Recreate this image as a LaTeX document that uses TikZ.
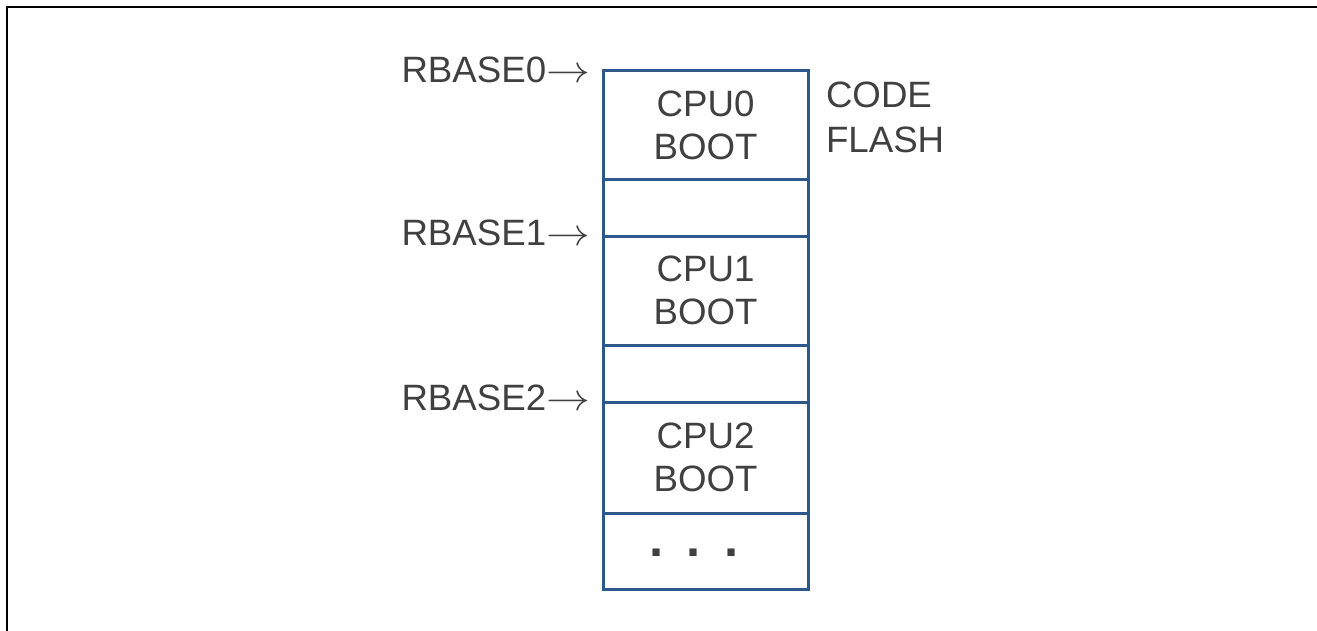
\documentclass[tikz,border=0pt]{standalone}
\usepackage{fontspec}
\usepackage{graphicx}
\setmainfont{Liberation Sans}
\definecolor{boxblue}{RGB}{47,88,138}
\definecolor{txt}{RGB}{64,64,64}
\newcommand{\longarr}{\scalebox{1.32}[1.15]{$\rightarrow$}}
\begin{document}
\begin{tikzpicture}[x=0.75pt,y=-0.75pt,
  lbl/.style={text=txt,font=\fontsize{27.5}{34}\selectfont,inner sep=0pt,outer sep=0pt},
  cell/.style={draw=boxblue,line width=2.25pt,minimum width=153.75pt,inner sep=0pt,outer sep=0pt,
    text=txt,font=\fontsize{27.5}{32.5}\selectfont,align=center,anchor=north}]
\useasboundingbox (0,0) rectangle (1317,631);
\fill[white] (0,0) rectangle (1317,631);
\draw[line width=1.5pt] (7,631) -- (7,7) -- (1317,7);
% memory cells
\node[cell,minimum height=82.1pt] (c0) at (705.5,70.5) {CPU0\\BOOT};
\node[cell,minimum height=42pt] (g0) at (705.5,180) {};
\node[cell,minimum height=81.75pt] (c1) at (705.5,236) {CPU1\\BOOT};
\node[cell,minimum height=42.75pt] (g1) at (705.5,345) {};
\node[cell,minimum height=83.25pt] (c2) at (705.5,402) {CPU2\\BOOT};
\node[cell,minimum height=57pt] (dd) at (705.5,513) {};
\node[text=txt,inner sep=0pt,anchor=base,font=\fontsize{38}{38}\bfseries] (dots) at (694,556) {.\kern17.5pt.\kern17.5pt.};
% labels
\node[lbl,anchor=base east] (r0) at (590,83) {RBASE0\longarr};
\node[lbl,anchor=base east] (r1) at (590,245) {RBASE1\longarr};
\node[lbl,anchor=base east] (r2) at (590,410) {RBASE2\longarr};
\node[lbl,anchor=north west,align=left] (cf) at (826,82) {CODE\\FLASH};
\end{tikzpicture}
\end{document}
